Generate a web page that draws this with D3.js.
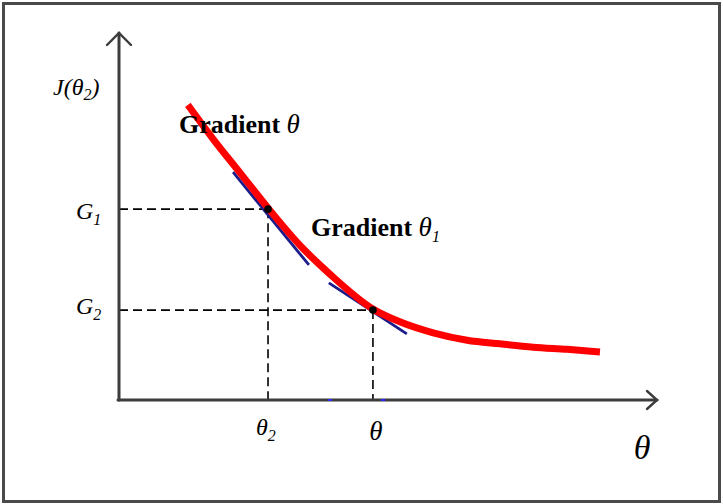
<!DOCTYPE html>
<html>
<head>
<meta charset="utf-8">
<script src="https://cdn.jsdelivr.net/npm/d3@7"></script>
<style>
  html, body { margin: 0; padding: 0; background: #fff; }
  svg { display: block; }
  text { font-family: "Liberation Serif", "Times New Roman", serif; fill: #000; }
</style>
</head>
<body>
<script>
// Cost curve J(theta) sampled along theta
const thetaValues = [1.28, 1.75, 2.25, 2.77, 3.36, 3.92, 4.72, 5.22, 5.84, 6.47, 7.08, 7.70, 8.33, 8.94];
const costValues  = [8.04, 7.11, 6.19, 5.23, 4.22, 3.43, 2.48, 2.13, 1.83, 1.63, 1.53, 1.44, 1.38, 1.31];

// Two iterates of gradient descent: theta positions and their cost levels
const stepThetas = [2.77, 4.72];
const stepCosts  = [5.20, 2.45];

// Tangent segments at each iterate: [theta0, cost0, theta1, cost1]
const tangents = [
  [2.12, 6.21, 3.53, 3.68],
  [3.90, 3.19, 5.35, 1.80]
];

// Faint blue tick remnants sitting on the theta axis
const axisMarks = [3.92, 4.91];

const W = 723, H = 504;
const svg = d3.select("body").append("svg").attr("width", W).attr("height", H);

const x = d3.scaleLinear().domain([0, 10]).range([119, 657]);
const y = d3.scaleLinear().domain([0, 10]).range([400, 33]);

// outer frame
svg.append("rect")
  .attr("x", 3.5).attr("y", 3.5).attr("width", 716).attr("height", 498)
  .attr("fill", "none").attr("stroke", "#4a4a4a").attr("stroke-width", 3);

const axisColor = "#3c3c3c";

// dashed guides from each iterate to both axes
const guides = svg.append("g").attr("stroke", "#000").attr("stroke-width", 1.6)
  .attr("stroke-dasharray", "9,5").attr("fill", "none");
stepThetas.forEach((t, i) => {
  guides.append("line").attr("x1", x(0)).attr("x2", x(t))
    .attr("y1", y(stepCosts[i])).attr("y2", y(stepCosts[i]));
  guides.append("line").attr("x1", x(t)).attr("x2", x(t))
    .attr("y1", y(stepCosts[i])).attr("y2", y(0));
});

// axes with open arrowheads
const axes = svg.append("g").attr("stroke", axisColor).attr("stroke-width", 3)
  .attr("fill", "none").attr("stroke-linecap", "round");
axes.append("line").attr("x1", x(0)).attr("y1", y(0)).attr("x2", x(0)).attr("y2", y(10));
axes.append("line").attr("x1", x(0) - 1).attr("y1", y(0)).attr("x2", x(10)).attr("y2", y(0));
axes.append("path").attr("stroke-width", 2.4)
  .attr("d", `M${x(0) - 12},${y(10) + 12} L${x(0)},${y(10)} L${x(0) + 12},${y(10) + 12}`);
axes.append("path").attr("stroke-width", 2.4)
  .attr("d", `M${x(10) - 10},${y(0) - 9} L${x(10)},${y(0)} L${x(10) - 10},${y(0) + 9}`);

// small blue marks on the theta axis
svg.append("g").selectAll("line").data(axisMarks).join("line")
  .attr("x1", d => x(d) - 2).attr("x2", d => x(d) + 2)
  .attr("y1", y(0)).attr("y2", y(0))
  .attr("stroke", "#2b2bff").attr("stroke-width", 2);

// tangent lines
svg.append("g").selectAll("line").data(tangents).join("line")
  .attr("x1", d => x(d[0])).attr("y1", d => y(d[1]))
  .attr("x2", d => x(d[2])).attr("y2", d => y(d[3]))
  .attr("stroke", "#1c1c8a").attr("stroke-width", 2.8);

// cost curve
const curvePts = thetaValues.map((t, i) => [t, costValues[i]]);
svg.append("path")
  .datum(curvePts)
  .attr("fill", "none")
  .attr("stroke", "#ff0000")
  .attr("stroke-width", 7)
  .attr("d", d3.line().x(d => x(d[0])).y(d => y(d[1])).curve(d3.curveMonotoneX));

// iterate points
svg.append("g").selectAll("circle").data(stepThetas).join("circle")
  .attr("cx", d => x(d)).attr("cy", (d, i) => y(stepCosts[i]))
  .attr("r", 3.8).attr("fill", "#000");

// ---- labels ----
function subLabel(parent, px, py, main, sub, size, subSize, anchor) {
  const t = parent.append("text").attr("x", px).attr("y", py)
    .attr("font-style", "italic").attr("font-size", size)
    .attr("text-anchor", anchor || "start");
  t.append("tspan").text(main);
  t.append("tspan").attr("font-size", subSize).attr("dy", 6).text(sub);
  return t;
}

// cost axis title
const jt = svg.append("text").attr("x", 53).attr("y", 95)
  .attr("font-style", "italic").attr("font-size", 24);
jt.append("tspan").text("J(θ");
jt.append("tspan").attr("font-size", 16).attr("dy", 5).text("2");
jt.append("tspan").attr("dy", -5).text(")");

// cost levels
subLabel(svg, 76, y(stepCosts[0]) + 10, "G", "1", 24, 16);
subLabel(svg, 76, y(stepCosts[1]) + 4, "G", "2", 24, 16);

// theta positions under the axis
subLabel(svg, x(stepThetas[0]) - 12, 435, "θ", "2", 24, 16);
svg.append("text").attr("x", x(stepThetas[1]) + 3).attr("y", 440)
  .attr("text-anchor", "middle").attr("font-style", "italic").attr("font-size", 27).text("θ");

// theta axis title
svg.append("text").attr("x", 642).attr("y", 459)
  .attr("text-anchor", "middle").attr("font-style", "italic").attr("font-size", 34).text("θ");

// gradient annotations
const g1 = svg.append("text").attr("x", 179).attr("y", 133).attr("font-size", 26);
g1.append("tspan").attr("font-weight", "bold").text("Gradient ");
g1.append("tspan").attr("font-style", "italic").attr("font-size", 27).text("θ");

const g2 = svg.append("text").attr("x", 311).attr("y", 236).attr("font-size", 26);
g2.append("tspan").attr("font-weight", "bold").text("Gradient ");
g2.append("tspan").attr("font-style", "italic").attr("font-size", 27).text("θ");
g2.append("tspan").attr("font-style", "italic").attr("font-size", 16).attr("dy", 6).text("1");
</script>
</body>
</html>
